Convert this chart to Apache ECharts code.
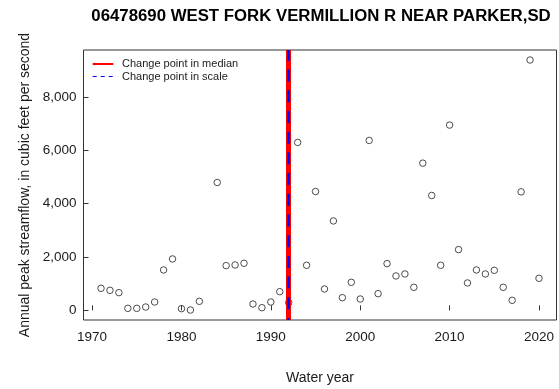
<!DOCTYPE html>
<html>
<head>
<meta charset="utf-8">
<title>06478690 West Fork Vermillion R near Parker, SD</title>
<script src="https://cdn.jsdelivr.net/npm/echarts@6/dist/echarts.min.js"></script>
<style>
  html, body { margin: 0; padding: 0; background: #fff; }
  #chart { width: 559px; height: 389px; }
</style>
</head>
<body>
<div id="chart"></div>
<script>
// Annual peak streamflow record (cfs); 1983 has no peak on record.
const waterYears = [
  1971, 1972, 1973, 1974, 1975, 1976, 1977, 1978, 1979, 1980,
  1981, 1982, 1984, 1985, 1986, 1987, 1988, 1989, 1990, 1991,
  1992, 1993, 1994, 1995, 1996, 1997, 1998, 1999, 2000, 2001,
  2002, 2003, 2004, 2005, 2006, 2007, 2008, 2009, 2010, 2011,
  2012, 2013, 2014, 2015, 2016, 2017, 2018, 2019, 2020
];
const peakFlow = [
  826, 751, 664, 75, 75, 125, 313, 1515, 1928, 63,
  13, 338, 4795, 1678, 1703, 1765, 238, 100, 313, 701,
  290, 6298, 1690, 4458, 801, 3354, 476, 1052, 426, 6373,
  626, 1753, 1290, 1365, 864, 5521, 4308, 1690, 6949, 2279,
  1027, 1515, 1365, 1502, 864, 376, 4445, 9390, 1202
];
const medianChangeYear = 1992;
const scaleChangeYear = 1992;
const xTicks = [1970, 1980, 1990, 2000, 2010, 2020];
const yTicks = [0, 2000, 4000, 6000, 8000];

const titleText = '06478690 WEST FORK VERMILLION R NEAR PARKER,SD';
const legendMedian = 'Change point in median';
const legendScale = 'Change point in scale';

const FONT = 'Liberation Sans, Arial, Helvetica, sans-serif';
const INK = '#1a1a1a';

const chart = echarts.init(document.getElementById('chart'), null, { renderer: 'canvas' });

const points = waterYears.map((y, i) => [y, peakFlow[i]]);

chart.setOption({
  animation: false,
  backgroundColor: '#ffffff',
  grid: {
    left: 83.5, top: 50, width: 473, height: 270,
    show: true, borderColor: '#333', borderWidth: 1, backgroundColor: 'transparent'
  },
  xAxis: {
    type: 'value',
    min: 1969.04, max: 2021.96,
    axisLine: { show: false },
    splitLine: { show: false },
    axisTick: { show: true, inside: true, length: 5, customValues: xTicks, lineStyle: { color: '#333' } },
    axisLabel: {
      customValues: xTicks, margin: 10, color: INK,
      fontFamily: FONT, fontSize: 13.5,
      formatter: v => String(v)
    }
  },
  yAxis: {
    type: 'value',
    min: -362, max: 9765,
    axisLine: { show: false },
    splitLine: { show: false },
    axisTick: { show: true, inside: true, length: 5, customValues: yTicks, lineStyle: { color: '#333' } },
    axisLabel: {
      customValues: yTicks, margin: 7, color: INK,
      fontFamily: FONT, fontSize: 13.5,
      formatter: v => Number(v).toLocaleString('en-US')
    }
  },
  series: [
    {
      type: 'scatter',
      name: 'Annual peak',
      data: points,
      symbol: 'circle',
      symbolSize: 6.5,
      z: 2,
      itemStyle: { color: 'rgba(255,255,255,0)', borderColor: '#222', borderWidth: 1 }
    },
    {
      type: 'line',
      name: legendMedian,
      data: [],
      z: 3,
      markLine: {
        silent: true, symbol: ['none', 'none'],
        label: { show: false },
        lineStyle: { color: '#ff0000', width: 5, type: 'solid' },
        data: [{ xAxis: medianChangeYear }]
      }
    },
    {
      type: 'line',
      name: legendScale,
      data: [],
      z: 4,
      markLine: {
        silent: true, symbol: ['none', 'none'],
        label: { show: false },
        lineStyle: { color: '#0000ff', width: 2.5, type: [12, 8.7], dashOffset: 10 },
        data: [{ xAxis: scaleChangeYear }]
      }
    }
  ],
  graphic: [
    {
      type: 'text', x: 321, y: 16,
      style: {
        text: titleText, fill: '#000', font: 'bold 16.8px ' + FONT,
        align: 'center', verticalAlign: 'middle'
      }
    },
    {
      type: 'text', x: 25, y: 185, rotation: Math.PI / 2,
      style: {
        text: 'Annual peak streamflow, in cubic feet per second', fill: INK,
        font: '14px ' + FONT, align: 'center', verticalAlign: 'middle'
      }
    },
    {
      type: 'text', x: 320, y: 378,
      style: {
        text: 'Water year', fill: INK, font: '14px ' + FONT,
        align: 'center', verticalAlign: 'middle'
      }
    },
    // legend keys
    {
      type: 'line', shape: { x1: 92.7, y1: 64, x2: 113.3, y2: 64 },
      style: { stroke: '#ff0000', lineWidth: 2 }
    },
    {
      type: 'text', x: 122, y: 64,
      style: { text: legendMedian, fill: INK, font: '11px ' + FONT, verticalAlign: 'middle' }
    },
    {
      type: 'line', shape: { x1: 92.7, y1: 76.5, x2: 113.3, y2: 76.5 },
      style: { stroke: '#0000ff', lineWidth: 1, lineDash: [4, 4] }
    },
    {
      type: 'text', x: 122, y: 76.5,
      style: { text: legendScale, fill: INK, font: '11px ' + FONT, verticalAlign: 'middle' }
    }
  ]
});
</script>
</body>
</html>
